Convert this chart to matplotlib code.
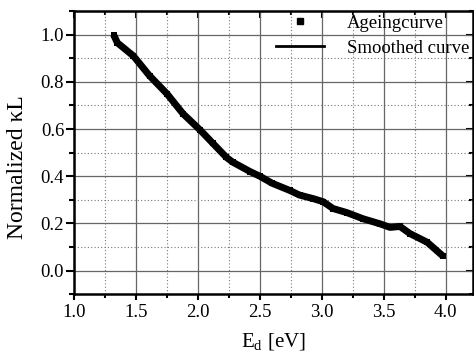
import numpy as np
import matplotlib
matplotlib.use("Agg")
import matplotlib.pyplot as plt
from matplotlib.ticker import MultipleLocator
from matplotlib.lines import Line2D

# values
ed = [1.32, 1.35, 1.48, 1.61, 1.75, 1.88, 2.02, 2.12, 2.23, 2.28, 2.42,
      2.50, 2.60, 2.74, 2.82, 2.93, 3.01, 3.09, 3.20, 3.33, 3.47, 3.55,
      3.63, 3.71, 3.85, 3.98]
kl = [1.00, 0.966, 0.91, 0.826, 0.75, 0.665, 0.595, 0.54, 0.48, 0.46, 0.42,
      0.40, 0.37, 0.34, 0.32, 0.305, 0.292, 0.263, 0.246, 0.22, 0.198, 0.183,
      0.187, 0.157, 0.12, 0.06]

plt.rcParams["font.family"] = ["Liberation Serif", "DejaVu Serif"]

fig = plt.figure(figsize=(4.74, 3.6), dpi=100)
ax = fig.add_axes([0.156, 0.183, 0.842, 0.786])

# thick band of the ageing curve
ax.plot(ed, kl, color="black", lw=5, solid_capstyle="butt",
        solid_joinstyle="round", zorder=3)
ax.plot(ed, kl, "s", color="black", ms=4.5, mew=0, zorder=4)

ax.set_xlim(1.0, 4.22)
ax.set_ylim(-0.1, 1.1)
ax.xaxis.set_major_locator(MultipleLocator(0.5))
ax.xaxis.set_minor_locator(MultipleLocator(0.25))
ax.yaxis.set_major_locator(MultipleLocator(0.2))
ax.yaxis.set_minor_locator(MultipleLocator(0.1))
ax.xaxis.set_major_formatter(lambda v, p: f"{v:.1f}")
ax.yaxis.set_major_formatter(lambda v, p: f"{v:.1f}")

ax.grid(True, which="major", color="#666666", lw=0.9, ls="-")
ax.grid(True, which="minor", color="#777777", lw=0.8, ls=(0, (1, 2)))
ax.set_axisbelow(True)

for s in ax.spines.values():
    s.set_linewidth(1.8)
ax.tick_params(which="both", labelsize=13.5, width=1.5, top=False, right=False)
ax.tick_params(axis="x", which="major", direction="out", length=4, pad=3)
ax.tick_params(axis="x", which="minor", direction="out", length=3)
ax.tick_params(axis="y", which="major", direction="out", length=6, pad=1)
ax.tick_params(axis="y", which="minor", direction="out", length=3.5)

# inward ticks on top and right
ax2 = ax.secondary_xaxis("top")
ax2.xaxis.set_major_locator(MultipleLocator(0.5))
ax2.xaxis.set_minor_locator(MultipleLocator(0.25))
ax2.tick_params(which="both", direction="in", labeltop=False, width=1.5)
ax2.tick_params(which="major", length=5)
ax2.tick_params(which="minor", length=3)
ay2 = ax.secondary_yaxis("right")
ay2.yaxis.set_major_locator(MultipleLocator(0.2))
ay2.yaxis.set_minor_locator(MultipleLocator(0.1))
ay2.tick_params(which="both", direction="in", labelright=False, width=1.5)
ay2.tick_params(which="major", length=5)
ay2.tick_params(which="minor", length=3)

ax.set_xlabel(r"E$_\mathregular{d}$ [eV]", fontsize=15, labelpad=8)
ax.set_ylabel("Normalized κL", fontsize=17)
ax.yaxis.set_label_coords(-0.115, 0.45)

handles = [Line2D([], [], ls="none", marker="s", color="black", ms=4),
           Line2D([], [], color="black", lw=2)]
ax.legend(handles, ["Ageingcurve", "Smoothed curve"], loc="upper right",
          bbox_to_anchor=(1.0, 1.0), frameon=False, fontsize=13.5,
          handlelength=2.6, handletextpad=1.2, borderaxespad=0.0,
          borderpad=0.2, labelspacing=0.4)

fig.savefig("out.png", dpi=100)
